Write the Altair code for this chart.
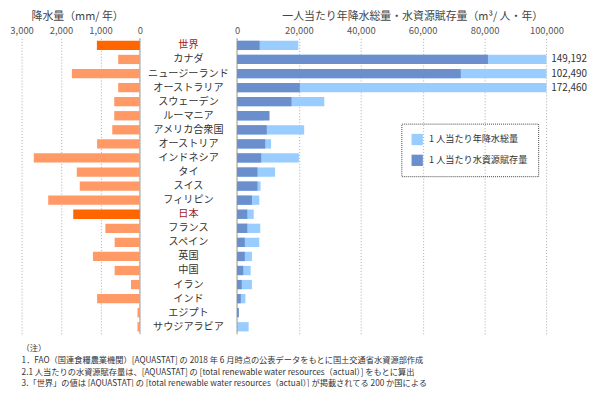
import altair as alt
import pandas as pd

countries = ["世界", "カナダ", "ニュージーランド", "オーストラリア", "スウェーデン", "ルーマニア",
             "アメリカ合衆国", "オーストリア", "インドネシア", "タイ", "スイス", "フィリピン", "日本",
             "フランス", "スペイン", "英国", "中国", "イラン", "インド", "エジプト", "サウジアラビア"]
precip_mm = [1090, 550, 1725, 550, 650, 650, 700, 1085, 2690, 1600, 1525, 2325, 1690,
             875, 640, 1190, 640, 225, 1085, 60, 60]
rain_per_capita = [19800, 149192, 102490, 172460, 28200, 8600, 21700, 11000, 20000, 12300, 7600,
                   7200, 5400, 7500, 7200, 4800, 4400, 4800, 2700, 200, 3750]
water_per_capita = [7300, 81100, 72300, 20300, 17600, 10500, 9600, 9100, 7800, 6600, 6600,
                    4800, 3300, 3300, 2500, 2500, 2000, 1500, 1200, 600, 100]
highlight = ["世界", "日本"]
series_names = ["1 人当たり年降水総量", "1 人当たり水資源賦存量"]
notes = [
    "（注）",
    "1．FAO（国連食糧農業機関）[AQUASTAT] の 2018 年 6 月時点の公表データをもとに国土交通省水資源部作成",
    "2.1 人当たりの水資源賦存量は、[AQUASTAT] の [total renewable water resources（actual）] をもとに算出",
    "3.「世界」の値は [AQUASTAT] の [total renewable water resources（actual）] が掲載されてる 200 か国による",
]

df = pd.DataFrame({"country": countries, "precip": precip_mm,
                   "rain": rain_per_capita, "water": water_per_capita})
df["hl"] = df["country"].isin(highlight)
df["label"] = df["rain"].map(lambda v: f"{v:,}")
df["s_rain"] = series_names[0]
df["s_water"] = series_names[1]
df["mid"] = 0.5

FONT = "Noto Sans CJK JP"
W, H = 529.3, 298

y_enc = alt.Y("country:N", sort=countries, axis=None,
              scale=alt.Scale(paddingInner=0.34, paddingOuter=0.17))
left_scale = alt.Scale(domain=[0, 3000], range=[119.3, 0])
right_scale = alt.Scale(domain=[0, 100000], range=[217.3, 529.3], clamp=True)
mid_scale = alt.Scale(domain=[0, 1], range=[119.3, 217.3], zero=False, nice=False)

grid_common = dict(orient="top", grid=True, gridDash=[1, 2], gridColor="#aaaaaa",
                   domain=False, ticks=False, labelFontSize=9.5, labelColor="#555555",
                   labelPadding=3, labelFlush=False, labelExpr="format(datum.value, ',')",
                   titleFontSize=11, titleFontWeight="normal", titleColor="#444444",
                   titleAlign="center", titleBaseline="middle")
left_axis = alt.Axis(values=[0, 1000, 2000, 3000], title="降水量（mm/ 年）",
                     titleX=56, titleY=-22, **grid_common)
right_axis = alt.Axis(values=[0, 20000, 40000, 60000, 80000, 100000],
                      title="一人当たり年降水総量・水資源賦存量（m³/ 人・年）",
                      titleX=394, titleY=-22, **grid_common)

color_scale = alt.Scale(domain=series_names, range=["#99CCFF", "#6A8FCC"])
legend = alt.Legend(orient="none", legendX=383, legendY=86, title=None, padding=10,
                    symbolType="square", symbolSize=130, symbolStrokeWidth=0,
                    symbolOpacity=1, labelFontSize=9.2, labelColor="#333333",
                    rowPadding=9, labelOffset=6, strokeColor="#444444")

base = alt.Chart(df)
zero = alt.Chart(pd.DataFrame({"z": [0]}))

left_rule = zero.mark_rule(color="#bbbbbb", strokeWidth=1.5).encode(
    x=alt.X("z:Q", scale=left_scale, axis=None))
right_rule = zero.mark_rule(color="#bbbbbb", strokeWidth=1.5).encode(
    x=alt.X("z:Q", scale=right_scale, axis=None))

left_bars = base.mark_bar().encode(
    x=alt.X("precip:Q", scale=left_scale, axis=left_axis),
    y=y_enc,
    color=alt.condition("datum.hl", alt.value("#FF6600"), alt.value("#FF9966")),
)
rain_bars = base.mark_bar().encode(
    x=alt.X("rain:Q", scale=right_scale, axis=right_axis),
    y=y_enc,
    color=alt.Color("s_rain:N", scale=color_scale, legend=legend),
)
water_bars = base.mark_bar().encode(
    x=alt.X("water:Q", scale=right_scale, axis=None),
    y=y_enc,
    color=alt.Color("s_water:N", scale=color_scale, legend=legend),
)
value_labels = base.transform_filter("datum.rain > 100000").mark_text(
    align="left", dx=5, fontSize=10, color="#333333").encode(
    x=alt.X("rain:Q", scale=right_scale, axis=None),
    y=y_enc,
    text="label:N",
)
country_labels = base.mark_text(fontSize=10.2, align="center").encode(
    x=alt.X("mid:Q", scale=mid_scale, axis=None),
    y=y_enc,
    text="country:N",
    color=alt.condition("datum.hl", alt.value("#A11B1B"), alt.value("#333333")),
)

chart = alt.layer(
    left_rule, right_rule, left_bars, rain_bars, water_bars, value_labels, country_labels
).resolve_scale(x="independent").properties(
    width=W, height=H,
    padding={"left": 13.7, "top": 29, "right": 46, "bottom": 52},
    autosize=alt.AutoSizeParams(type="none"),
    title=alt.TitleParams(text=notes, orient="bottom", anchor="start", frame="group",
                          fontSize=8.3, fontWeight="normal", color="#333333",
                          lineHeight=11.7, offset=10, baseline="top"),
).configure(font=FONT).configure_view(stroke=None).configure_legend(
    strokeDash=[1, 1], strokeWidth=1)

chart.save("out.html", embed_options={"renderer": "svg", "actions": False})
